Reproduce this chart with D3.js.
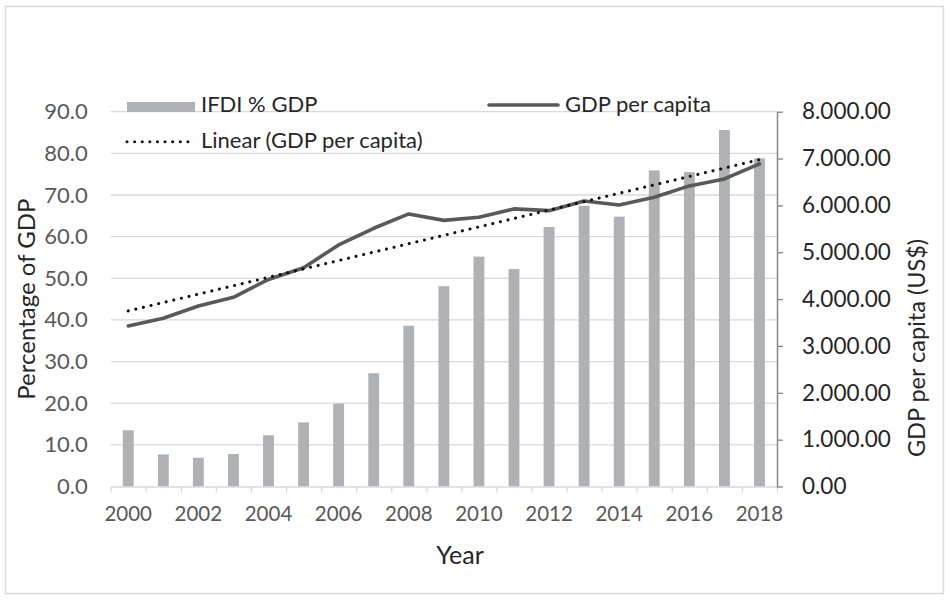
<!DOCTYPE html>
<html>
<head>
<meta charset="utf-8">
<script src="https://cdn.jsdelivr.net/npm/d3@7"></script>
<style>
  html, body { margin: 0; padding: 0; background: #fff; }
  svg text { font-family: Lato, "Open Sans", sans-serif; }
</style>
</head>
<body>
<svg id="chart" width="949" height="600"></svg>
<script>
// Years on the category axis
const years = [2000, 2001, 2002, 2003, 2004, 2005, 2006, 2007, 2008, 2009,
               2010, 2011, 2012, 2013, 2014, 2015, 2016, 2017, 2018];
// Inward FDI stock as a share of GDP (%)
const ifdiPctGdp = [13.5, 7.7, 6.9, 7.8, 12.3, 15.4, 19.9, 27.2, 38.6, 48.1,
                    55.2, 52.2, 62.3, 67.4, 64.8, 75.9, 75.5, 85.6, 78.8];
// GDP per capita (US$)
const gdpPerCapita = [3427, 3591, 3854, 4039, 4420, 4670, 5156, 5512, 5818, 5680,
                      5748, 5925, 5888, 6095, 6010, 6174, 6416, 6565, 6885];
// Axis tick values
const leftTicks = [0, 10, 20, 30, 40, 50, 60, 70, 80, 90];
const rightTicks = [0, 1000, 2000, 3000, 4000, 5000, 6000, 7000, 8000];
const yearLabels = [2000, 2002, 2004, 2006, 2008, 2010, 2012, 2014, 2016, 2018];

const svg = d3.select("#chart");

const plot = { left: 110.7, right: 777, top: 111.7, bottom: 486.5 };

// Outer chart frame
svg.append("rect")
  .attr("x", 5.5).attr("y", 6.5).attr("width", 938).attr("height", 587)
  .attr("fill", "#fff").attr("stroke", "#d9d9d9").attr("stroke-width", 1.5);

const x = d3.scaleBand().domain(years).range([plot.left, plot.right]).padding(0);
const xEdge = d3.scaleLinear().domain([0, years.length]).range([plot.left, plot.right]);
const yL = d3.scaleLinear().domain([0, 90]).range([plot.bottom, plot.top]);
const yR = d3.scaleLinear().domain([0, 8000]).range([plot.bottom, plot.top]);

const cx = d => x(d) + x.bandwidth() / 2;

// Horizontal gridlines
svg.append("g").selectAll("line").data(leftTicks.slice(1)).join("line")
  .attr("x1", plot.left).attr("x2", plot.right)
  .attr("y1", d => yL(d)).attr("y2", d => yL(d))
  .attr("stroke", "#d9d9d9").attr("stroke-width", 1.3);

// Left axis labels
const gL = svg.append("g").attr("transform", `translate(${plot.left},0)`)
  .call(d3.axisLeft(yL).tickValues(leftTicks).tickFormat(d3.format(".1f"))
    .tickSize(0).tickPadding(23));
gL.select(".domain").remove();
gL.selectAll("text").attr("font-size", 22).attr("fill", "#595959")
  .attr("font-family", "Lato, sans-serif");

// Bars
const barW = x.bandwidth() * 0.31;
svg.append("g").selectAll("rect").data(years).join("rect")
  .attr("x", d => cx(d) - barW / 2)
  .attr("width", barW)
  .attr("y", (d, i) => yL(ifdiPctGdp[i]))
  .attr("height", (d, i) => plot.bottom - yL(ifdiPctGdp[i]))
  .attr("fill", "#b0b1b4");

// Bottom axis: tick marks at category boundaries
const gX = svg.append("g").attr("transform", `translate(0,${plot.bottom})`)
  .call(d3.axisBottom(xEdge).tickValues(d3.range(years.length + 1))
    .tickFormat("").tickSize(6).tickSizeOuter(0));
gX.select(".domain").attr("stroke", "#d9d9d9").attr("stroke-width", 1.5);
gX.selectAll(".tick line").attr("stroke", "#d9d9d9").attr("stroke-width", 1.3);

// Bottom axis labels on every second year
const gXL = svg.append("g").attr("transform", `translate(0,${plot.bottom})`)
  .call(d3.axisBottom(x).tickValues(yearLabels).tickSize(0).tickPadding(20));
gXL.select(".domain").remove();
gXL.selectAll("text").attr("font-size", 20.5).attr("fill", "#595959")
  .attr("font-family", "Lato, sans-serif");

// Right axis
const gR = svg.append("g").attr("transform", `translate(${plot.right},0)`)
  .call(d3.axisRight(yR).tickValues(rightTicks)
    .tickFormat(d => d3.format(",.2f")(d).replace(/,/g, "."))
    .tickSize(6).tickSizeOuter(0).tickPadding(19));
gR.select(".domain").attr("stroke", "#868686").attr("stroke-width", 1.5);
gR.selectAll(".tick line").attr("stroke", "#868686").attr("stroke-width", 1.3);
gR.selectAll("text").attr("font-size", 22.5).attr("fill", "#262626")
  .attr("font-family", "Lato, sans-serif");

// Linear trend of GDP per capita (least squares over year index)
const n = years.length;
const xs = d3.range(n);
const mx = d3.mean(xs), my = d3.mean(gdpPerCapita);
const slope = d3.sum(xs, i => (i - mx) * (gdpPerCapita[i] - my)) / d3.sum(xs, i => (i - mx) ** 2);
const icpt = my - slope * mx;

const line = d3.line().x((d, i) => cx(years[i])).y(d => yR(d));

svg.append("path").datum(gdpPerCapita)
  .attr("d", line)
  .attr("fill", "none").attr("stroke", "#595959").attr("stroke-width", 3.6)
  .attr("stroke-linejoin", "round").attr("stroke-linecap", "round");

svg.append("line")
  .attr("x1", cx(years[0])).attr("y1", yR(icpt))
  .attr("x2", cx(years[n - 1])).attr("y2", yR(icpt + slope * (n - 1)))
  .attr("stroke", "#111").attr("stroke-width", 3.1)
  .attr("stroke-dasharray", "0.01 7.8").attr("stroke-linecap", "round");

// Legend
const lg = svg.append("g").attr("font-size", 22).attr("fill", "#262626");
lg.append("rect").attr("x", 127).attr("y", 102).attr("width", 68).attr("height", 10)
  .attr("fill", "#b0b1b4");
lg.append("text").attr("x", 201).attr("y", 111.5).text("IFDI % GDP");
lg.append("line").attr("x1", 489).attr("x2", 558).attr("y1", 105).attr("y2", 105)
  .attr("stroke", "#595959").attr("stroke-width", 3.6).attr("stroke-linecap", "round");
lg.append("text").attr("x", 565).attr("y", 111.5).text("GDP per capita");
lg.append("line").attr("x1", 127).attr("x2", 195).attr("y1", 141.7).attr("y2", 141.7)
  .attr("stroke", "#111").attr("stroke-width", 3.1)
  .attr("stroke-dasharray", "0.01 7.6").attr("stroke-linecap", "round");
lg.append("text").attr("x", 201).attr("y", 148.3).text("Linear (GDP per capita)");

// Axis titles
svg.append("text").attr("transform", `translate(35,${(plot.top + plot.bottom) / 2}) rotate(-90)`)
  .attr("text-anchor", "middle").attr("font-size", 24).attr("fill", "#262626")
  .text("Percentage of GDP");
svg.append("text").attr("transform", "translate(925,348) rotate(-90)")
  .attr("text-anchor", "middle").attr("font-size", 23.5).attr("fill", "#262626")
  .text("GDP per capita (US$)");
svg.append("text").attr("x", 460).attr("y", 564)
  .attr("text-anchor", "middle").attr("font-size", 25).attr("fill", "#262626")
  .text("Year");
</script>
</body>
</html>
